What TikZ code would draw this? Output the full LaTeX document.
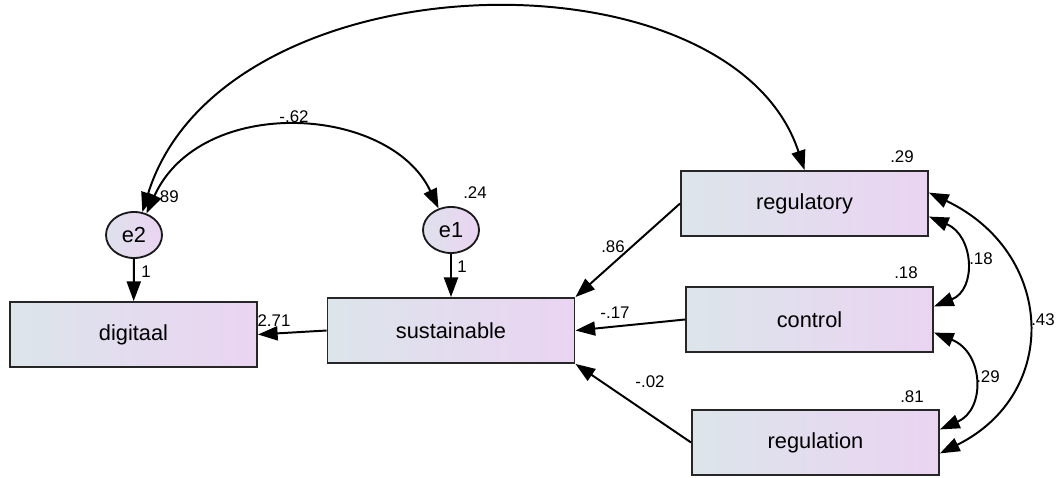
\documentclass[tikz,border=0pt]{standalone}
\usepackage{fontspec}
\setmainfont{Liberation Sans}
\usepackage{xcolor}
\usetikzlibrary{arrows.meta,shapes.geometric}

\definecolor{boxleft}{HTML}{DCE5EA}
\definecolor{boxright}{HTML}{EAD4F2}

\begin{document}
\begin{tikzpicture}[x=0.025cm,y=-0.025cm,
    obs/.style={draw=black!85,line width=1.3pt,left color=boxleft,right color=boxright,
        minimum width=6.175cm,minimum height=1.625cm,font=\fontsize{15.5}{18}\selectfont},
    err/.style={ellipse,draw=black!90,line width=1.3pt,left color=boxleft!80!boxright,right color=boxright,
        minimum width=1.4cm,minimum height=1.15cm,inner sep=0pt,font=\fontsize{15.5}{18}\selectfont},
    est/.style={font=\fontsize{12}{14}\selectfont,inner sep=0pt},
    effect/.style={line width=1.4pt,-{Triangle[length=14pt,width=10pt]}},
    corr/.style={line width=1.4pt,{Triangle[length=14pt,width=10pt]}-{Triangle[length=14pt,width=10pt]}}]
    \useasboundingbox (0,0) rectangle (1056,478);

    \node[obs] (digitaal) at (133.5,334.5) {digitaal};
    \node[obs] (sustainable) at (451,330.5) {sustainable};
    \node[obs] (regulatory) at (804.5,203.5) {regulatory};
    \node[obs] (control) at (809.5,319.5) {control};
    \node[obs] (regulation) at (815.5,442.5) {regulation};
    \node[err] (e2) at (134,235) {e2};
    \node[err] (e1) at (451,230) {e1};

    \node[est] (v89) at (167,197) {.89};
    \node[est] (w2) at (146,272) {1};
    \node[est] (v24) at (475,193) {.24};
    \node[est] (w1) at (462,267) {1};
    \node[est] (b271) at (274,321) {2.71};
    \node[est] (c62) at (294,117) {-.62};
    \node[est] (b86) at (613,247) {.86};
    \node[est] (b17) at (615,313) {-.17};
    \node[est] (b02) at (650,382) {-.02};
    \node[est] (v29) at (902,157) {.29};
    \node[est] (v18) at (906,273) {.18};
    \node[est] (v81) at (912,397) {.81};
    \node[est] (c18) at (981,259) {.18};
    \node[est] (c29) at (988,377) {.29};
    \node[est] (c43) at (1043,320) {.43};

    \draw[corr] (e2.70) .. controls +(80,-257) and +(-74,-226) .. (regulatory.north);
    \draw[corr] (e2.60) .. controls +(54,-119) and +(-49,-104) .. (e1.120);
    \draw[corr] (regulatory.-6) .. controls +(45,19) and +(43,-17) .. (control.6);
    \draw[corr] (control.-6) .. controls +(50,20) and +(46,-20) .. (regulation.6);
    \draw[corr] (regulatory.5) .. controls +(126,60) and +(121,-60) .. (regulation.-5);

    \draw[effect] (regulatory.west) -- (sustainable.north east);
    \draw[effect] (control.west) -- (sustainable.east);
    \draw[effect] (regulation.west) -- (sustainable.south east);
    \draw[effect] (sustainable.west) -- (digitaal.east);
    \draw[effect] (e2) -- (digitaal);
    \draw[effect] (e1) -- (sustainable);

\end{tikzpicture}
\end{document}
